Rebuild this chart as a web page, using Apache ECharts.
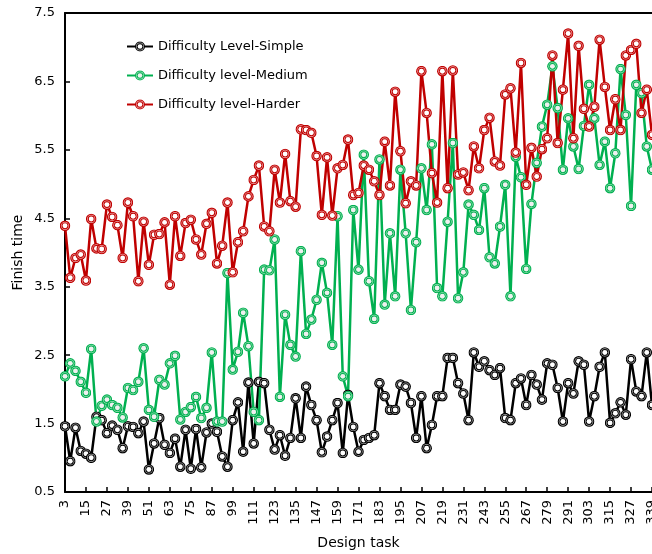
<!DOCTYPE html>
<html>
<head>
<meta charset="utf-8">
<script src="https://cdn.jsdelivr.net/npm/echarts@6/dist/echarts.min.js"></script>
<style>html,body{margin:0;padding:0;background:#fff}#c{width:652px;height:554px}</style>
</head>
<body>
<div id="c"></div>
<script>
const categories = [3,6,9,12,15,18,21,24,27,30,33,36,39,42,45,48,51,54,57,60,63,66,69,72,75,78,81,84,87,90,93,96,99,102,105,108,111,114,117,120,123,126,129,132,135,138,141,144,147,150,153,156,159,162,165,168,171,174,177,180,183,186,189,192,195,198,201,204,207,210,213,216,219,222,225,228,231,234,237,240,243,246,249,252,255,258,261,264,267,270,273,276,279,282,285,288,291,294,297,300,303,306,309,312,315,318,321,324,327,330,333,336,339];

const simple = [1.46,0.95,1.44,1.10,1.06,1.00,1.60,1.55,1.36,1.47,1.41,1.14,1.46,1.45,1.36,1.53,0.83,1.21,1.58,1.19,1.07,1.28,0.87,1.41,0.84,1.42,0.86,1.37,1.50,1.38,1.02,0.87,1.55,1.81,
1.09,2.10,1.21,2.11,2.09,1.41,1.12,1.33,1.03,1.29,1.87,1.29,2.04,1.77,1.55,1.08,1.31,1.55,1.80,1.07,1.92,1.45,1.09,1.26,1.29,1.33,2.09,1.90,1.70,1.70,2.07,2.04,1.80,1.29,1.90,1.14,1.48,1.90,1.90,
2.46,2.46,2.09,1.94,1.55,2.54,2.33,2.41,2.28,2.21,2.31,1.58,1.55,2.09,2.16,1.77,2.21,2.07,1.85,2.38,2.36,2.02,1.53,2.09,1.94,2.41,2.36,1.53,1.90,2.33,2.54,1.51,1.65,1.81,1.63,2.44,1.97,1.90,2.54,1.77];

const medium = [2.19,2.38,2.27,2.11,1.95,2.59,1.53,1.76,1.85,1.77,1.73,1.59,2.02,1.99,2.11,2.60,1.70,1.60,2.14,2.07,2.38,2.49,1.56,1.67,1.74,1.89,1.58,1.73,2.54,1.53,1.53,
3.70,2.29,2.55,3.12,2.63,1.67,1.55,3.75,3.74,4.19,1.89,3.09,2.65,2.48,4.02,2.81,3.02,3.31,3.85,3.41,2.65,4.53,2.19,1.90,4.62,3.75,5.43,3.58,3.03,5.36,3.24,4.28,3.36,5.21,4.28,3.16,4.15,5.23,4.62,5.58,3.48,3.36,4.45,
5.60,3.33,3.71,4.70,4.55,4.33,4.94,3.93,3.84,4.38,4.99,3.36,5.40,5.10,
3.76,4.71,5.31,5.84,6.16,6.72,6.11,5.21,5.96,5.55,5.22,5.85,6.45,5.96,5.28,5.62,4.94,5.45,6.68,6.01,4.68,6.45,6.33,5.55,5.21];

const harder = [4.39,3.63,3.92,3.97,3.59,4.49,4.06,4.05,4.70,4.52,4.40,3.92,4.73,4.53,3.58,4.45,3.82,4.26,4.27,4.44,3.53,4.53,3.95,4.43,4.48,4.19,3.97,4.42,4.58,3.84,4.10,4.73,3.71,4.15,
4.31,4.82,5.06,5.27,4.38,4.31,5.21,4.73,5.44,4.75,4.67,5.80,5.79,5.75,5.41,4.55,5.39,4.54,5.23,5.28,5.65,4.84,4.87,5.27,5.21,5.04,4.84,5.62,4.98,6.35,5.48,4.72,5.04,4.98,6.65,6.04,5.16,4.73,
6.65,4.94,6.66,5.14,5.17,4.91,5.55,5.23,5.79,5.97,5.33,5.27,6.31,6.40,5.46,6.77,4.99,5.53,5.11,5.51,5.67,6.88,5.60,6.38,7.20,5.67,7.02,6.10,5.84,6.13,7.11,6.42,5.79,6.24,5.79,6.88,6.96,7.05,6.04,6.38,5.72];

const seriesNames = ['Difficulty Level-Simple','Difficulty level-Medium','Difficulty level-Harder'];

function ring(dark, gap, center) {
  const svg = "<svg xmlns='http://www.w3.org/2000/svg' width='24' height='24' viewBox='0 0 24 24'>" +
    "<circle cx='12' cy='12' r='11.5' fill='" + dark + "'/>" +
    "<circle cx='12' cy='12' r='9' fill='" + gap + "'/>" +
    "<circle cx='12' cy='12' r='7.4' fill='" + dark + "'/>" +
    "<circle cx='12' cy='12' r='5.4' fill='" + center + "'/></svg>";
  return 'image://data:image/svg+xml;charset=utf-8,' + encodeURIComponent(svg);
}

const FONT = 'DejaVu Sans';
const chart = echarts.init(document.getElementById('c'));

function mk(name, data, color, gap, center) {
  return {
    name: name, type: 'line', data: data,
    symbol: ring(color, gap, center), symbolSize: 11,
    showSymbol: true, showAllSymbol: true,
    lineStyle: { color: color, width: 2.5 },
    itemStyle: { color: color },
    animation: false
  };
}

chart.setOption({
  animation: false,
  textStyle: { fontFamily: FONT },
  grid: { left: 65, right: 0, top: 13, bottom: 62, containLabel: false, outerBoundsMode: 'none' },
  legend: {
    orient: 'vertical', left: 121, top: 35,
    itemWidth: 26, itemHeight: 13, itemGap: 16,
    textStyle: { fontFamily: FONT, fontSize: 13, color: '#000' },
    data: seriesNames
  },
  xAxis: [{
    type: 'category', data: categories, boundaryGap: false,
    name: 'Design task', nameLocation: 'middle', nameGap: 44, nameMoveOverlap: false,
    nameTextStyle: { fontFamily: FONT, fontSize: 14, color: '#000' },
    axisLine: { lineStyle: { color: '#000', width: 2 } },
    axisTick: { inside: true, length: 5, interval: 3, lineStyle: { color: '#000', width: 1.5 } },
    axisLabel: { interval: 3, rotate: 90, fontFamily: FONT, fontSize: 13, color: '#000', margin: 8, hideOverlap: false },
    splitLine: { show: false }
  }, {
    type: 'category', data: categories, boundaryGap: false, position: 'top',
    axisLine: { lineStyle: { color: '#000', width: 2 } },
    axisTick: { show: false }, axisLabel: { show: false }, splitLine: { show: false }
  }],
  yAxis: {
    type: 'value', min: 0.5, max: 7.5, interval: 1,
    name: 'Finish time', nameLocation: 'middle', nameGap: 40, nameMoveOverlap: false,
    nameTextStyle: { fontFamily: FONT, fontSize: 14, color: '#000' },
    axisLine: { show: true, lineStyle: { color: '#000', width: 2 } },
    axisTick: { show: true, inside: true, length: 5, lineStyle: { color: '#000', width: 1.5 } },
    axisLabel: { fontFamily: FONT, fontSize: 13, color: '#000', margin: 10, formatter: v => v.toFixed(1) },
    splitLine: { show: false }
  },
  series: [
    mk(seriesNames[0], simple, '#000000', '#a8a8a8', '#ffffff'),
    mk(seriesNames[1], medium, '#00b050', '#9be0b7', '#f0f0f0'),
    mk(seriesNames[2], harder, '#c00000', '#eba4a4', '#ffffff')
  ]
});
</script>
</body>
</html>
